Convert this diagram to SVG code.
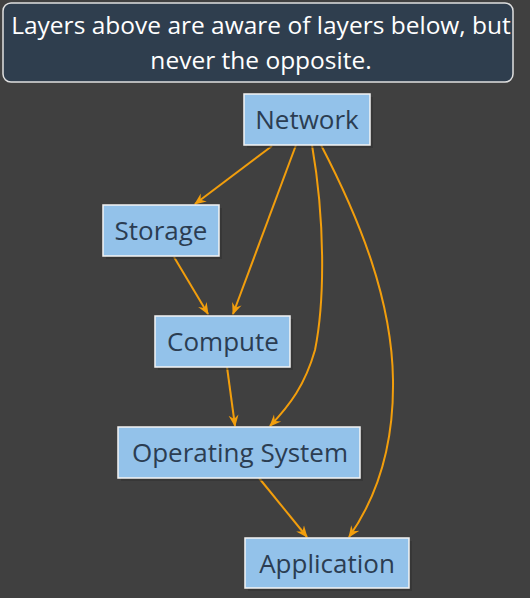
<svg xmlns="http://www.w3.org/2000/svg" width="530" height="598" viewBox="0 0 530 598">
<style>
.bg{fill:#404040}
.node rect.s{fill:#2e2e2e;opacity:0.5}
.node rect.b{fill:#93c2ea;stroke:#f4f4f4;stroke-width:1.5}
.node text{font-family:"Open Sans",Lato,sans-serif;font-size:26px;fill:#2b3d52;text-anchor:middle}
.edge{fill:none;stroke:#f29e0c;stroke-width:2}
.title text{font-family:"Open Sans",Lato,sans-serif;font-size:24.5px;fill:#ffffff;text-anchor:middle}
</style>
<defs>
<marker id="ah" viewBox="0 0 12 12" refX="11" refY="6" markerWidth="12" markerHeight="12" markerUnits="userSpaceOnUse" orient="auto">
<path d="M0,1 L12,6 L0,11 L4,6 Z" fill="#f29e0c"/>
</marker>
</defs>
<rect class="bg" x="0" y="0" width="530" height="598"/>
<g id="title" class="title">
<rect x="3" y="3" width="510" height="79" rx="8" fill="#2f3e4e" stroke="#e0e0e0" stroke-width="1.5"/>
<text x="261" y="34">Layers above are aware of layers below, but</text>
<text x="261" y="69">never the opposite.</text>
</g>
<g id="connectors">
<path class="edge" marker-end="url(#ah)" d="M272,146 L195,204"/>
<path class="edge" marker-end="url(#ah)" d="M296,145 L233,314"/>
<path class="edge" marker-end="url(#ah)" d="M312,145 C325,220 325,300 315,350 C305,385 290,405 270,426"/>
<path class="edge" marker-end="url(#ah)" d="M321,145 C360,220 392,300 393,380 C394,450 375,500 349,537"/>
<path class="edge" marker-end="url(#ah)" d="M174,257 L208,314"/>
<path class="edge" marker-end="url(#ah)" d="M227,367 L235,426"/>
<path class="edge" marker-end="url(#ah)" d="M259,478 L307,537"/>
</g>
<g id="network" class="node">
<rect class="s" x="247" y="97" width="126" height="51"/>
<rect class="b" x="244" y="94" width="126" height="51"/>
<text x="307" y="129">Network</text>
</g>
<g id="storage" class="node">
<rect class="s" x="106" y="208" width="116" height="51"/>
<rect class="b" x="103" y="205" width="116" height="51"/>
<text x="161" y="240">Storage</text>
</g>
<g id="compute" class="node">
<rect class="s" x="158" y="319" width="135" height="51"/>
<rect class="b" x="155" y="316" width="135" height="51"/>
<text x="223" y="351">Compute</text>
</g>
<g id="os" class="node">
<rect class="s" x="121" y="430" width="242" height="51"/>
<rect class="b" x="118" y="427" width="242" height="51"/>
<text x="240" y="462">Operating System</text>
</g>
<g id="application" class="node">
<rect class="s" x="248" y="541" width="164" height="50"/>
<rect class="b" x="245" y="538" width="164" height="50"/>
<text x="327" y="573">Application</text>
</g>
</svg>
